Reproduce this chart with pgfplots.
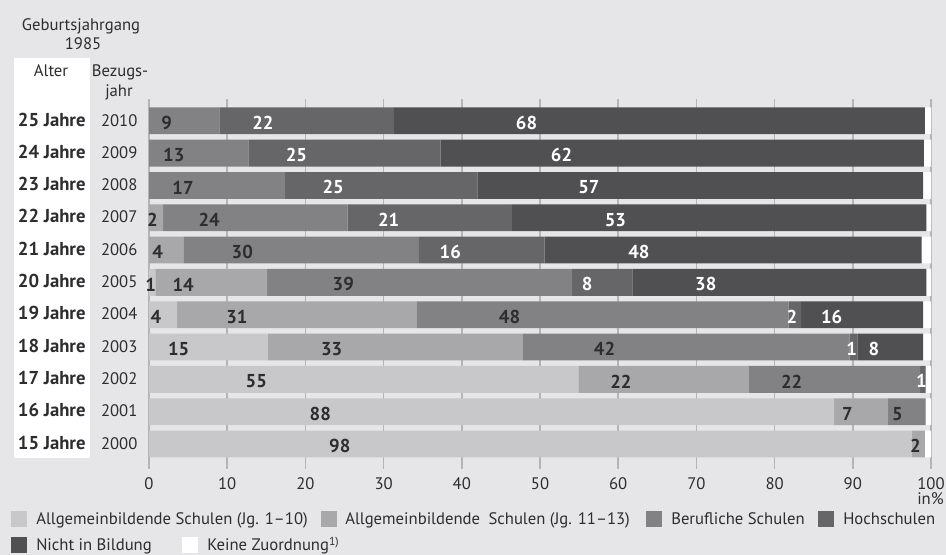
\documentclass[border=0pt]{standalone}
\usepackage{pgfplots}
\pgfplotsset{compat=1.18}
\usepackage{pgfplotstable}
\usepackage{fontspec}
\setmainfont{PT Sans}

\definecolor{bg}{RGB}{230,230,232}
\definecolor{schulA}{RGB}{200,200,202}
\definecolor{schulB}{RGB}{168,168,170}
\definecolor{beruf}{RGB}{130,130,132}
\definecolor{hoch}{RGB}{102,102,104}
\definecolor{nicht}{RGB}{80,80,82}
\definecolor{gridc}{RGB}{180,180,182}
\definecolor{txt}{RGB}{45,45,45}

% Bildungsbeteiligung des Geburtsjahrgangs 1985, in %
% row 0 = 2010 (25 Jahre) ... row 10 = 2000 (15 Jahre)
% a: Allgemeinbildende Schulen (Jg. 1-10)   b: Allgemeinbildende Schulen (Jg. 11-13)
% c: Berufliche Schulen   d: Hochschulen   e: Nicht in Bildung   f: Keine Zuordnung
\pgfplotstableread{
row a    b    c    d    e    f
0   0    0    9.0  22.3 67.9 0.8
1   0    0    12.7 24.6 61.8 0.9
2   0    0    17.4 24.6 57.0 1.0
3   0    1.8  23.6 21.0 53.0 0.6
4   0    4.4  30.1 16.1 48.2 1.2
5   0.8  14.3 39.0 7.7  37.6 0.6
6   3.6  30.6 47.6 1.6  15.6 1.0
7   15.2 32.6 41.8 1.0  8.4  1.0
8   54.9 21.8 21.9 0.7  0    0.7
9   87.6 6.9  4.8  0    0    0.7
10  97.6 1.6  0    0    0    0.8
}\bildung

\newcommand\txtsize{\fontsize{12.5}{15}\selectfont}
\newcommand\boldsize{\fontsize{14}{16}\selectfont\bfseries}

\begin{document}
\begin{tikzpicture}[x=0.75pt,y=0.75pt]
\useasboundingbox (0,0) rectangle (946,555);
\fill[bg] (0,0) rectangle (946,555);
\fill[white] (14,97) rectangle (90,497);
\coordinate (origin) at (149,86);

% column heads
\begin{scope}[every node/.style={anchor=base, inner sep=0pt, text=txt, font=\txtsize}]
\node at (81,524.3) {Geburtsjahrgang};
\node at (83,505) {1985};
\node at (51,478.3) {Alter};
\node at (120,478.3) {Bezugs-};
\node at (119,458.3) {jahr};
\node at (930.5,50) {in\%};
\end{scope}

\begin{axis}[
  at={(origin)}, anchor=south west,
  scale only axis, width=586.5pt, height=277.5pt,
  xbar stacked, bar width=0.83,
  xmin=0, xmax=100, ymin=-0.675, ymax=10.774, y dir=reverse,
  xtick={0,10,...,100}, ytick={0,...,10},
  yticklabels={
    {\makebox[57pt]{\boldsize 25 Jahre}\makebox[44.25pt]{2010}},
    {\makebox[57pt]{\boldsize 24 Jahre}\makebox[44.25pt]{2009}},
    {\makebox[57pt]{\boldsize 23 Jahre}\makebox[44.25pt]{2008}},
    {\makebox[57pt]{\boldsize 22 Jahre}\makebox[44.25pt]{2007}},
    {\makebox[57pt]{\boldsize 21 Jahre}\makebox[44.25pt]{2006}},
    {\makebox[57pt]{\boldsize 20 Jahre}\makebox[44.25pt]{2005}},
    {\makebox[57pt]{\boldsize 19 Jahre}\makebox[44.25pt]{2004}},
    {\makebox[57pt]{\boldsize 18 Jahre}\makebox[44.25pt]{2003}},
    {\makebox[57pt]{\boldsize 17 Jahre}\makebox[44.25pt]{2002}},
    {\makebox[57pt]{\boldsize 16 Jahre}\makebox[44.25pt]{2001}},
    {\makebox[57pt]{\boldsize 15 Jahre}\makebox[44.25pt]{2000}}},
  xmajorgrids, major grid style={gridc, line width=1.1pt},
  axis line style={draw=none}, major tick length=0pt,
  tick label style={font=\txtsize, text=txt, inner sep=0pt},
  xticklabel style={anchor=base, yshift=-15.75pt},
  yticklabel style={anchor=base east, yshift=-3.9pt},
  /pgf/number format/assume math mode=true,
  point meta=explicit,
  nodes near coords={\pgfmathfloatifflags{\pgfplotspointmeta}{0}{}{\pgfmathprintnumber[fixed,precision=0]{\pgfplotspointmeta}}},
  every node near coord/.append style={anchor=center, inner sep=0pt,
    xshift=-\val*1.46625pt, yshift=-1.5pt, font=\boldsize},
]
\addplot[fill=schulA, draw=none, visualization depends on={\thisrow{a} \as \val},
  every node near coord/.append style={text=txt}]
  table[x=a, y=row, meta=a] {\bildung};
\addplot[fill=schulB, draw=none, visualization depends on={\thisrow{b} \as \val},
  every node near coord/.append style={text=txt}]
  table[x=b, y=row, meta=b] {\bildung};
\addplot[fill=beruf, draw=none, visualization depends on={\thisrow{c} \as \val},
  every node near coord/.append style={text=txt}]
  table[x=c, y=row, meta=c] {\bildung};
\addplot[fill=hoch, draw=none, visualization depends on={\thisrow{d} \as \val},
  every node near coord/.append style={text=white}]
  table[x=d, y=row, meta=d] {\bildung};
\addplot[fill=nicht, draw=none, visualization depends on={\thisrow{e} \as \val},
  every node near coord/.append style={text=white}]
  table[x=e, y=row, meta=e] {\bildung};
\addplot[fill=white, draw=none, nodes near coords={}, visualization depends on={\thisrow{f} \as \val}]
  table[x=f, y=row, meta=f] {\bildung};
\end{axis}

% legend
\begin{scope}[every node/.style={anchor=base west, inner sep=0pt, text=txt, font=\txtsize}]
\fill[schulA] (11,28) rectangle (27,44);
\node at (36,30) {Allgemeinbildende Schulen (Jg. 1--10)};
\fill[schulB] (321,28) rectangle (337,44);
\node at (345,30) {Allgemeinbildende\hspace{3pt} Schulen (Jg. 11--13)};
\fill[beruf] (646,28) rectangle (662,44);
\node at (671,30) {Berufliche Schulen};
\fill[hoch] (818,28) rectangle (834,44);
\node at (843,30) {Hochschulen};
\fill[nicht] (11,2) rectangle (27,18);
\node at (36,4) {Nicht in Bildung};
\fill[white] (182,2) rectangle (198,18);
\node at (207,4) {Keine Zuordnung\textsuperscript{1)}};
\end{scope}
\end{tikzpicture}
\end{document}
